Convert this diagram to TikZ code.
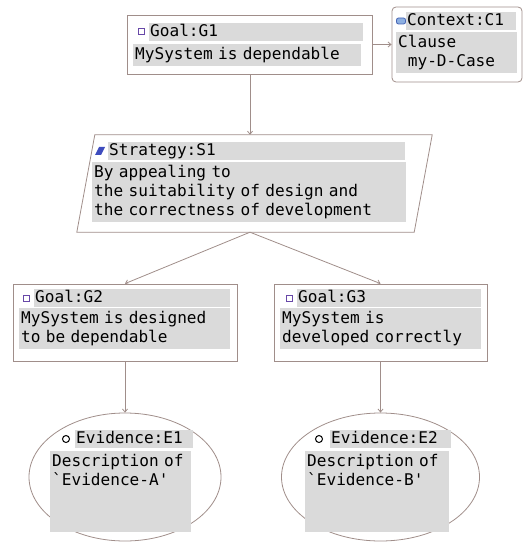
\documentclass[tikz,border=0pt]{standalone}
\usepackage{fontspec}
\newfontfamily\dcasefont{DejaVu Sans Mono}
\usetikzlibrary{shapes.geometric,arrows.meta}
\definecolor{edgecol}{RGB}{160,142,138}
\definecolor{barcol}{RGB}{218,218,218}
\definecolor{goalcol}{RGB}{104,72,168}
\definecolor{ctxcol}{RGB}{70,100,180}
\definecolor{ctxfill}{RGB}{140,175,225}
\definecolor{stratcol}{RGB}{62,76,190}
\tikzset{
  dfont/.style={font=\dcasefont\fontsize{16.1}{19}\selectfont},
  boxnode/.style={draw=edgecol, line width=0.8pt, inner sep=0pt},
  titlebar/.style={dfont, anchor=west, fill=barcol, inner xsep=1pt, inner ysep=1pt, text height=12pt, text depth=3.5pt, align=left},
  bodybar/.style={dfont, anchor=north west, fill=barcol, inner xsep=2pt, inner ysep=3pt, align=left},
  link/.style={draw=edgecol, line width=0.8pt, -{Straight Barb[length=3pt,width=5pt]}},
  goalicon/.style={draw=goalcol, fill=white, line width=1pt, minimum size=6pt, inner sep=0pt},
  ctxicon/.style={draw=ctxcol, fill=ctxfill, line width=0.8pt, rounded corners=2pt, minimum width=9pt, minimum height=6pt, inner sep=0pt},
  eviicon/.style={draw=black, circle, line width=1pt, minimum size=7pt, inner sep=0pt},
}
\begin{document}
\begin{tikzpicture}[x=1pt,y=-1pt]
\useasboundingbox (0,0) rectangle (524,545);
\begin{scope}[shift={(0,0)}]
\node[boxnode, minimum width=245pt, minimum height=59pt] (G1) at (250.0,44.5) {};
\node[goalicon] (g1icon) at (141,32) {};
\node[titlebar, text width=212pt] (g1title) at (149,32) {Goal:G1};
\node[bodybar, text width=224pt] (g1body) at (133,44) {MySystem is dependable};
\node[boxnode, rounded corners=4pt, minimum width=130pt, minimum height=75pt] (C1) at (457.0,44.5) {};
\node[ctxicon] (c1icon) at (401,21) {};
\node[titlebar, text width=108pt] (c1title) at (406,21) {Context:C1};
\node[bodybar, text width=117pt] (c1body) at (396,32) {Clause\\\hspace*{0.602em}my-D-Case};
\node[minimum width=337pt, minimum height=97pt, inner sep=0pt] (S1) at (254.5,183.5) {};
\draw[edgecol, line width=0.8pt] ([xshift=9pt]S1.north west) -- ([xshift=9pt]S1.north east) -- ([xshift=-9pt]S1.south east) -- ([xshift=-9pt]S1.south west) -- cycle;
\fill[stratcol] (95,155) -- (99,147) -- (105,147) -- (101,155) -- cycle;
\node[titlebar, text width=295pt] (s1title) at (108,151) {Strategy:S1};
\node[bodybar, text width=310pt] (s1body) at (92,162) {By appealing to\\the suitability of design and\\the correctness of development};
\node[boxnode, minimum width=224pt, minimum height=77pt] (G2) at (125.0,322.5) {};
\node[goalicon] (g2icon) at (26,298) {};
\node[titlebar, text width=194pt] (g2title) at (34,298) {Goal:G2};
\node[bodybar, text width=207pt] (g2body) at (19,308) {MySystem is designed\\to be dependable};
\node[boxnode, minimum width=213pt, minimum height=77pt] (G3) at (380.5,322.5) {};
\node[goalicon] (g3icon) at (289,298) {};
\node[titlebar, text width=182pt] (g3title) at (297,298) {Goal:G3};
\node[bodybar, text width=197pt] (g3body) at (280,308) {MySystem is\\developed correctly};
\node[boxnode, ellipse, minimum width=192pt, minimum height=128pt] (E1) at (125.0,477.0) {};
\node[eviicon] (e1icon) at (66,439) {};
\node[titlebar, text width=116pt] (e1title) at (75,439) {Evidence:E1};
\node[bodybar, text width=137pt] (e1body) at (50,451) {Description of\\`Evidence-A'\\\strut\\\strut};
\node[boxnode, ellipse, minimum width=198pt, minimum height=128pt] (E2) at (380.5,477.0) {};
\node[eviicon] (e2icon) at (319,439) {};
\node[titlebar, text width=119pt] (e2title) at (330,439) {Evidence:E2};
\node[bodybar, text width=140pt] (e2body) at (305,451) {Description of\\`Evidence-B'\\\strut\\\strut};
\draw[link] (G1.east) -- (C1.west);
\draw[link] (G1.south) -- (G1.south |- S1.north);
\draw[link] (G1.south |- S1.south) -- (G2.north);
\draw[link] (G1.south |- S1.south) -- (G3.north);
\draw[link] (G2.south) -- (E1.north);
\draw[link] (G3.south) -- (E2.north);
\end{scope}
\end{tikzpicture}
\end{document}
